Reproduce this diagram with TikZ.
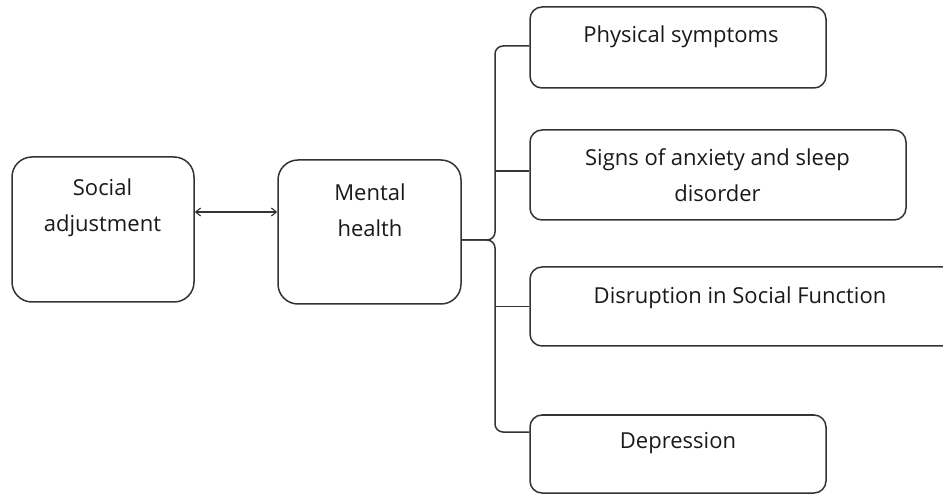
\documentclass[tikz,border=0pt]{standalone}
\usepackage{fontspec}
\setmainfont{Open Sans}
\usetikzlibrary{arrows.meta}
\usetikzlibrary{positioning}

\tikzset{
    bigbox/.style={draw=black!80, line width=1.5pt, rounded corners=20pt, inner sep=0pt},
    smallbox/.style={draw=black!80, line width=1.5pt, rounded corners=12pt, inner sep=0pt},
    txt/.style={font=\fontsize{22}{36}\selectfont, text=black!90, align=center, inner sep=0pt},
    link/.style={draw=black!80, line width=1.5pt},
}

\begin{document}
\begin{tikzpicture}[x=1pt,y=-1pt]
        \useasboundingbox (0,0) rectangle (943,494);
        %left boxes
        \node[bigbox, minimum width=182pt, minimum height=145pt] (sa) at (103,229.5) {};
        \node[bigbox, minimum width=183pt, minimum height=144pt] (mh) at (369.5,232) {};
        %right boxes
        \node[smallbox, minimum width=296pt, minimum height=81pt] (phys) at (678,47.5) {};
        \node[smallbox, minimum width=376pt, minimum height=90pt] (anx) at (718,175) {};
        \node[smallbox, minimum width=430pt, minimum height=79pt] (disr) at (745,306.5) {};
        \node[smallbox, minimum width=296pt, minimum height=78pt] (depr) at (678,454) {};

        \node[txt] (tsa) at (102.5,207.5) {Social\\adjustment};
        \node[txt] (tmh) at (370,210.5) {Mental\\health};
        \node[txt] (tphys) at (681,37) {Physical symptoms};
        \node[txt] (tanx) at (717.5,175.5) {Signs of anxiety and sleep\\disorder};
        \node[txt] (tdisr) at (740,297.5) {Disruption in Social Function};
        \node[txt] (tdepr) at (678,443) {Depression};

        %arrow and brace
        \coordinate (arr) at (0,212);
        \draw[link, line width=1.1pt, {Straight Barb[length=5pt,width=8pt]}-{Straight Barb[length=5pt,width=8pt]}] (sa.east |- arr) -- (mh.west |- arr);

        \coordinate (spine) at (495,240);
        \draw[link, rounded corners=8pt] (mh.east |- spine) -- (spine) |- ([yshift=1.5pt]phys.west);
        \draw[link, rounded corners=8pt] (mh.east |- spine) -- (spine) |- ([yshift=22pt]depr.west);
        \draw[link] ([yshift=4pt]anx.west) -- ([yshift=4pt]anx.west -| spine);
        \draw[link] (disr.west) -- (disr.west -| spine);
\end{tikzpicture}
\end{document}
